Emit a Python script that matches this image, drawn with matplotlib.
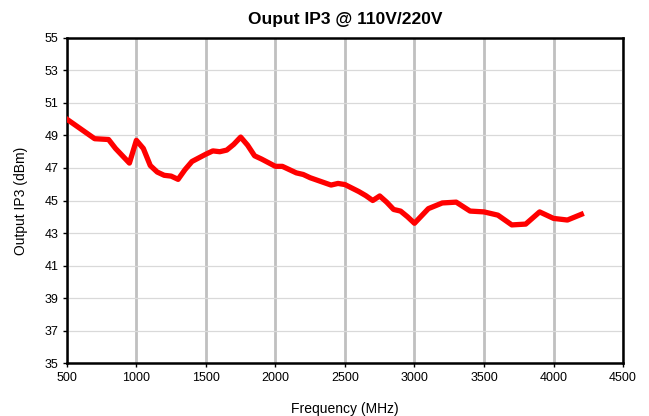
import matplotlib
matplotlib.use("Agg")
import matplotlib.pyplot as plt

freq_mhz = [500, 600, 700, 800, 850, 900, 950, 1000, 1050, 1100, 1150, 1200, 1250,
            1300, 1350, 1400, 1500, 1550, 1600, 1650, 1700, 1750, 1800, 1850, 1900,
            2000, 2050, 2100, 2150, 2200, 2250, 2300, 2350, 2400, 2450, 2500, 2600,
            2650, 2700, 2750, 2800, 2850, 2900, 2950, 3000, 3050, 3100, 3200, 3300,
            3400, 3500, 3600, 3700, 3800, 3900, 4000, 4100, 4200]
oip3_dbm = [50.0, 49.4, 48.8, 48.75, 48.2, 47.75, 47.3, 48.7, 48.2, 47.15, 46.75, 46.55, 46.5,
            46.3, 46.9, 47.4, 47.85, 48.05, 48.0, 48.1, 48.45, 48.9, 48.4, 47.75, 47.55,
            47.1, 47.1, 46.9, 46.7, 46.6, 46.4, 46.25, 46.1, 45.95, 46.05, 45.98, 45.55,
            45.3, 45.0, 45.28, 44.9, 44.45, 44.35, 44.0, 43.6, 44.05, 44.5, 44.85, 44.9,
            44.35, 44.3, 44.1, 43.5, 43.55, 44.3, 43.9, 43.8, 44.15]

x_ticks = list(range(500, 4501, 500))
y_ticks = list(range(35, 56, 2))

plt.rcParams['font.family'] = ['Liberation Sans', 'DejaVu Sans']

fig = plt.figure(figsize=(6.49, 4.16), dpi=100)
ax = fig.add_axes([0.103, 0.127, 0.857, 0.782])

ax.plot(freq_mhz, oip3_dbm, color='#ff0000', linewidth=3.8, solid_joinstyle='round', zorder=3)

ax.set_xlim(500, 4500)
ax.set_ylim(35, 55)
ax.set_xticks(x_ticks)
ax.set_yticks(y_ticks)
ax.tick_params(labelsize=9, length=3, width=1, direction='out', pad=3)

ax.grid(axis='x', color='#c0c0c0', linewidth=2)
ax.grid(axis='y', color='#d9d9d9', linewidth=0.9)
ax.set_axisbelow(True)
for s in ax.spines.values():
    s.set_linewidth(1.8)
    s.set_color('black')

ax.set_title("Ouput IP3 @ 110V/220V", fontsize=12.5, fontweight='bold', pad=10)
ax.set_xlabel("Frequency (MHz)", fontsize=10, labelpad=13)
ax.set_ylabel("Output IP3 (dBm)", fontsize=10, labelpad=12)

fig.savefig("out.png", dpi=100)
